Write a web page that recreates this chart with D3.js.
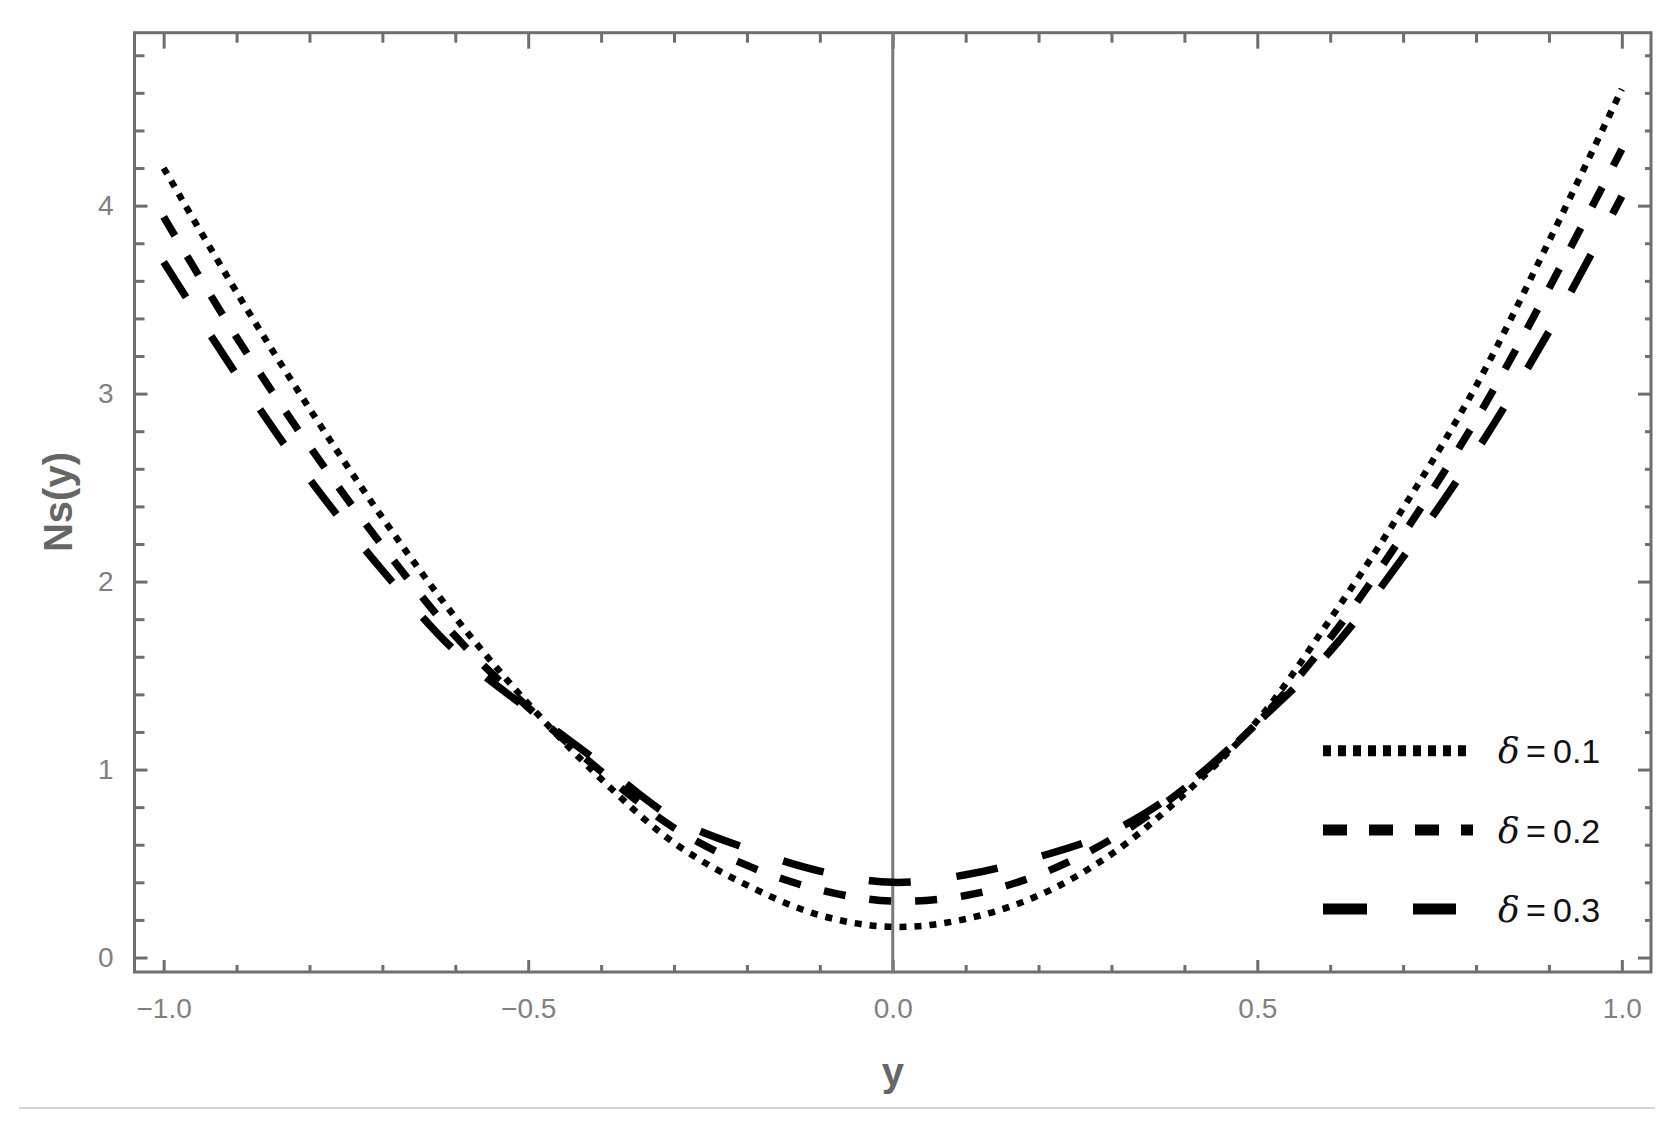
<!DOCTYPE html>
<html>
<head>
<meta charset="utf-8">
<script src="https://cdn.jsdelivr.net/npm/d3@7"></script>
<style>
  html, body { margin: 0; padding: 0; background: #ffffff; }
  svg { display: block; }
  text { font-family: "Liberation Sans", Arial, sans-serif; }
</style>
</head>
<body>
<svg id="chart" width="1680" height="1139"></svg>
<script>
// ---- data ----
const yValues = [-1.0, -0.9, -0.8, -0.7, -0.6, -0.5, -0.4, -0.3, -0.2, -0.1, 0.0,
                  0.1, 0.2, 0.3, 0.4, 0.5, 0.6, 0.7, 0.8, 0.9, 1.0];
const nsDelta01 = [4.20, 3.54, 2.92, 2.34, 1.81, 1.35, 0.95, 0.61, 0.385, 0.225, 0.163,
                   0.205, 0.33, 0.55, 0.87, 1.26, 1.80, 2.39, 3.04, 3.81, 4.62];
const nsDelta02 = [3.94, 3.30, 2.72, 2.19, 1.71, 1.33, 0.99, 0.69, 0.49, 0.36, 0.30,
                   0.33, 0.44, 0.63, 0.90, 1.25, 1.70, 2.25, 2.86, 3.56, 4.30];
const nsDelta03 = [3.70, 3.10, 2.545, 2.06, 1.63, 1.32, 1.03, 0.74, 0.58, 0.46, 0.40,
                   0.44, 0.535, 0.67, 0.91, 1.25, 1.63, 2.13, 2.69, 3.33, 4.05];
const seriesValues = ["0.1", "0.2", "0.3"];
const xMajorTicks = [-1.0, -0.5, 0.0, 0.5, 1.0];
const xTickLabels = ["\u22121.0", "\u22120.5", "0.0", "0.5", "1.0"];
const xMinorTicks = [-0.9, -0.8, -0.7, -0.6, -0.4, -0.3, -0.2, -0.1, 0.1, 0.2, 0.3, 0.4, 0.6, 0.7, 0.8, 0.9];
const yMajorTicks = [0, 1, 2, 3, 4];
const yTickLabels = ["0", "1", "2", "3", "4"];
const yMinorTicks = [0.2, 0.4, 0.6, 0.8, 1.2, 1.4, 1.6, 1.8, 2.2, 2.4, 2.6, 2.8, 3.2, 3.4, 3.6, 3.8, 4.2, 4.4, 4.6, 4.8];

// ---- layout ----
const L = 134.5, R = 1651, T = 32.7, B = 972;
const frameColor = "#6e6e6e";
const svg = d3.select("#chart");

const x = d3.scaleLinear().domain([-1.04, 1.04]).range([L, R]);
const y = d3.scaleLinear().domain([-0.077, 4.92]).range([B, T]);

function styleAxis(g) {
  g.select(".domain").remove();
  g.selectAll(".tick line").attr("stroke", frameColor).attr("stroke-width", 3);
}

// left axis (labels + major ticks inward)
svg.append("g").attr("transform", `translate(${L},0)`)
  .call(d3.axisLeft(y).tickValues(yMajorTicks).tickSizeInner(-13).tickSizeOuter(0)
        .tickPadding(21).tickFormat((d, i) => yTickLabels[i]))
  .call(styleAxis)
  .call(g => g.selectAll("text").attr("font-size", 28).attr("fill", "#808080")
        .attr("font-family", "Liberation Sans, Arial, sans-serif"));
svg.append("g").attr("transform", `translate(${L},0)`)
  .call(d3.axisLeft(y).tickValues(yMinorTicks).tickSizeInner(-10).tickSizeOuter(0).tickFormat(""))
  .call(styleAxis);

// right axis
svg.append("g").attr("transform", `translate(${R},0)`)
  .call(d3.axisRight(y).tickValues(yMajorTicks).tickSizeInner(-13).tickSizeOuter(0).tickFormat(""))
  .call(styleAxis);
svg.append("g").attr("transform", `translate(${R},0)`)
  .call(d3.axisRight(y).tickValues(yMinorTicks).tickSizeInner(-6).tickSizeOuter(0).tickFormat(""))
  .call(styleAxis);

// bottom axis
svg.append("g").attr("transform", `translate(0,${B})`)
  .call(d3.axisBottom(x).tickValues(xMajorTicks).tickSizeInner(-12).tickSizeOuter(0)
        .tickPadding(26).tickFormat((d, i) => xTickLabels[i]))
  .call(styleAxis)
  .call(g => g.selectAll("text").attr("font-size", 28).attr("fill", "#808080")
        .attr("font-family", "Liberation Sans, Arial, sans-serif"));
svg.append("g").attr("transform", `translate(0,${B})`)
  .call(d3.axisBottom(x).tickValues(xMinorTicks).tickSizeInner(-7).tickSizeOuter(0).tickFormat(""))
  .call(styleAxis);

// top axis
svg.append("g").attr("transform", `translate(0,${T})`)
  .call(d3.axisTop(x).tickValues(xMajorTicks).tickSizeInner(-16).tickSizeOuter(0).tickFormat(""))
  .call(styleAxis);
svg.append("g").attr("transform", `translate(0,${T})`)
  .call(d3.axisTop(x).tickValues(xMinorTicks).tickSizeInner(-10).tickSizeOuter(0).tickFormat(""))
  .call(styleAxis);

// frame
svg.append("rect").attr("x", L).attr("y", T).attr("width", R - L).attr("height", B - T)
  .attr("fill", "none").attr("stroke", frameColor).attr("stroke-width", 3);

// vertical axis at y = 0
svg.append("line").attr("x1", x(0)).attr("x2", x(0)).attr("y1", T).attr("y2", B)
  .attr("stroke", "#7a7a7a").attr("stroke-width", 3);

// ---- curves ----
const series = [
  { values: nsDelta01, dash: "7,8",   width: 6.5, legendDash: "8,7" },
  { values: nsDelta02, dash: "22,24", width: 7.5, legendDash: "24,22" },
  { values: nsDelta03, dash: "42,46", width: 7.5, legendDash: "44,46" }
];

const line = d3.line()
  .x(d => x(d[0]))
  .y(d => y(d[1]))
  .curve(d3.curveCatmullRom.alpha(0.5));

series.forEach(s => {
  const pts = yValues.map((v, i) => [v, s.values[i]]);
  svg.append("path").datum(pts)
    .attr("d", line)
    .attr("fill", "none")
    .attr("stroke", "#000")
    .attr("stroke-width", s.width)
    .attr("stroke-dasharray", s.dash)
    .attr("stroke-linecap", "butt");
});

// ---- legend ----
const legendY = [750.7, 830, 909];
const legendX1 = 1323;
const legendX2 = [1471, 1473, 1456];
series.forEach((s, i) => {
  svg.append("line")
    .attr("x1", legendX1).attr("x2", legendX2[i])
    .attr("y1", legendY[i]).attr("y2", legendY[i])
    .attr("stroke", "#000").attr("stroke-width", 11)
    .attr("stroke-dasharray", s.legendDash);
  const t = svg.append("text")
    .attr("y", legendY[i] + 12.5)
    .attr("font-size", 34)
    .attr("fill", "#111");
  t.append("tspan").attr("x", 1498).attr("font-style", "italic")
    .attr("font-family", "DejaVu Serif, serif").attr("font-size", 36).text("δ");
  t.append("tspan").attr("x", 1526).text("=");
  t.append("tspan").attr("x", 1553).text(seriesValues[i]);
});

// ---- axis titles ----
svg.append("text")
  .attr("x", x(0)).attr("y", 1086)
  .attr("text-anchor", "middle")
  .attr("font-size", 40).attr("font-weight", "bold").attr("fill", "#666")
  .text("y");

svg.append("text")
  .attr("transform", "translate(72,502) rotate(-90)")
  .attr("text-anchor", "middle")
  .attr("font-size", 40).attr("font-weight", "bold").attr("fill", "#666")
  .text("Ns(y)");

// bottom separator line
svg.append("line").attr("x1", 19).attr("x2", 1655).attr("y1", 1108).attr("y2", 1108)
  .attr("stroke", "#d4d4d4").attr("stroke-width", 2);
</script>
</body>
</html>
